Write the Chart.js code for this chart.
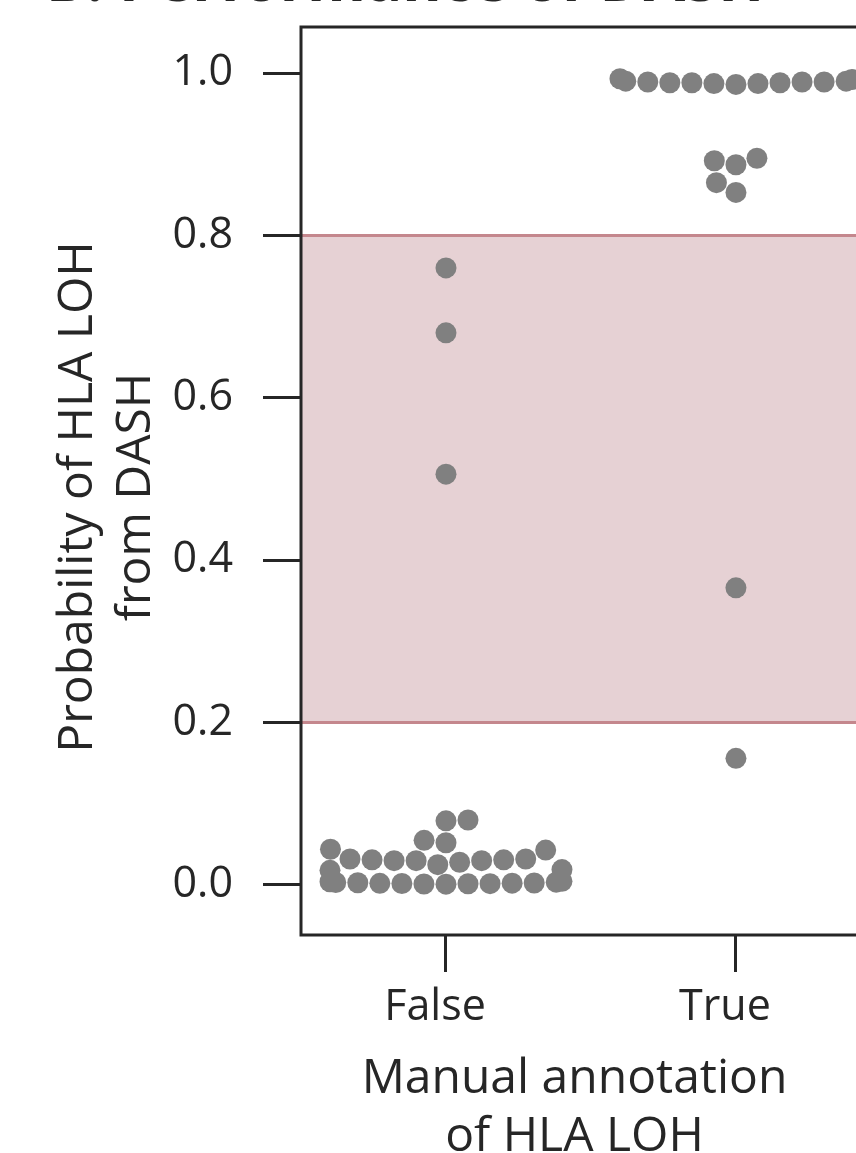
<!DOCTYPE html>
<html>
<head>
<meta charset="utf-8">
<script src="https://cdn.jsdelivr.net/npm/chart.js@4.4.1/dist/chart.umd.min.js"></script>
<style>
  html, body { margin: 0; padding: 0; background: #ffffff; overflow: hidden; }
  #wrap { position: relative; width: 856px; height: 1153px; }
</style>
</head>
<body>
<div id="wrap"><canvas id="c" width="856" height="1153"></canvas></div>
<script>
// ---------------- data ----------------
const categories = ['False', 'True'];

// DASH probability for samples manually annotated as no HLA LOH
const falseValues = [
  0.0010, 0.0015, 0.0020, 0.0012, 0.0025, 0.0018, 0.0030, 0.0022, 0.0028, 0.0016, 0.0035, 0.0040, 0.0045,
  0.018, 0.019,
  0.025, 0.028, 0.030, 0.030, 0.030, 0.031, 0.031, 0.032, 0.032,
  0.043, 0.044, 0.052, 0.055, 0.079, 0.080,
  0.506, 0.680, 0.760
];

// DASH probability for samples manually annotated as HLA LOH
const trueValues = [
  0.156, 0.366,
  0.853, 0.865, 0.887, 0.892, 0.895,
  0.986, 0.987, 0.987, 0.988, 0.988, 0.988, 0.989, 0.989, 0.989, 0.990, 0.990, 0.992, 0.993
];

const yTickValues = [0.0, 0.2, 0.4, 0.6, 0.8, 1.0];
const bandRange = [0.2, 0.8];
const yRange = [-0.0616, 1.0567];
const xRange = [-0.5, 1.414];

const chartTitle = 'B. Performance of DASH';
const xTitleLines = ['Manual annotation', 'of HLA LOH'];
const yTitleLines = ['Probability of HLA LOH', 'from DASH'];

// ---------------- style ----------------
const FAMILY = "'Open Sans', 'DejaVu Sans', sans-serif";
const INK = '#262626';
const DOT = '#808080';
const BAND_FILL = '#e6d1d4';
const BAND_EDGE = '#c4878d';
const DOT_R = 10.5;
const SWARM_WIDTH = 0.8;

// seaborn-style beeswarm (pixel space)
function beeswarm(values, centerPx, yScale, r, halfWidthPx) {
  const pts = values.map((v, i) => ({ i, x: centerPx, y: -yScale.getPixelForValue(v), r }));
  const sorted = pts.slice().sort((a, b) => a.y - b.y);
  const swarm = [sorted[0]];
  for (let k = 1; k < sorted.length; k++) {
    const p = sorted[k];
    const neighbors = [];
    for (let j = swarm.length - 1; j >= 0; j--) {
      const q = swarm[j];
      if (p.y - q.y < p.r + q.r) neighbors.push(q); else break;
    }
    const cands = [p.x];
    let leftFirst = true;
    for (const q of neighbors) {
      const dy = p.y - q.y;
      const dx = Math.sqrt(Math.max((p.r + q.r) ** 2 - dy * dy, 0)) * 1.05;
      if (leftFirst) cands.push(q.x - dx, q.x + dx); else cands.push(q.x + dx, q.x - dx);
      leftFirst = !leftFirst;
    }
    const order = cands.map((c, idx) => ({ c, idx }))
      .sort((a, b) => (Math.abs(a.c - centerPx) - Math.abs(b.c - centerPx)) || (a.idx - b.idx));
    let chosen = order[0].c;
    if (neighbors.length) {
      for (const o of order) {
        let ok = true;
        for (const q of neighbors) {
          const dx = q.x - o.c, dy = q.y - p.y;
          if (dx * dx + dy * dy < (q.r + p.r) ** 2) { ok = false; break; }
        }
        if (ok) { chosen = o.c; break; }
      }
    }
    p.x = chosen;
    swarm.push(p);
  }
  const out = new Array(values.length);
  for (const p of pts) {
    let x = p.x;
    if (x < centerPx - halfWidthPx) x = centerPx - halfWidthPx;
    if (x > centerPx + halfWidthPx) x = centerPx + halfWidthPx;
    out[p.i] = x;
  }
  return out;
}

function zeroPadding(s) {
  s.paddingTop = 0; s.paddingBottom = 0; s.paddingLeft = 0; s.paddingRight = 0;
}

const decorPlugin = {
  id: 'decor',
  beforeDatasetsDraw(chart) {
    const { ctx, chartArea: a, scales: { y } } = chart;
    const yHi = y.getPixelForValue(bandRange[1]);
    const yLo = y.getPixelForValue(bandRange[0]);
    ctx.save();
    ctx.fillStyle = BAND_FILL;
    ctx.fillRect(a.left, yHi, a.right - a.left, yLo - yHi);
    ctx.strokeStyle = BAND_EDGE;
    ctx.lineWidth = 3;
    ctx.beginPath();
    ctx.moveTo(a.left, yHi); ctx.lineTo(a.right, yHi);
    ctx.moveTo(a.left, yLo); ctx.lineTo(a.right, yLo);
    ctx.stroke();
    ctx.restore();
  },
  afterDatasetsDraw(chart) {
    const { ctx, chartArea: a } = chart;
    ctx.save();
    ctx.strokeStyle = INK;
    ctx.lineWidth = 3;
    ctx.lineCap = 'square';
    ctx.beginPath();
    ctx.moveTo(a.right + 5, a.top); ctx.lineTo(a.left, a.top);
    ctx.lineTo(a.left, a.bottom); ctx.lineTo(a.right + 5, a.bottom);
    ctx.stroke();
    ctx.restore();
  },
  afterDraw(chart) {
    const { ctx, chartArea: a } = chart;
    ctx.save();
    ctx.fillStyle = INK;
    // chart title (mostly above the visible frame)
    ctx.font = `bold 60px ${FAMILY}`;
    ctx.textAlign = 'left';
    ctx.textBaseline = 'alphabetic';
    ctx.fillText(chartTitle, 46, 1);
    // x axis title
    ctx.font = `48px ${FAMILY}`;
    ctx.textAlign = 'center';
    const cx = (a.left + a.right) / 2 - 4;
    ctx.fillText(xTitleLines[0], cx, a.bottom + 158);
    ctx.fillText(xTitleLines[1], cx, a.bottom + 216);
    // y axis title
    ctx.translate(92, (a.top + a.bottom) / 2 + 16);
    ctx.rotate(-Math.PI / 2);
    ctx.fillText(yTitleLines[0], 0, 0);
    ctx.fillText(yTitleLines[1], 0, 58);
    ctx.restore();
  }
};

const ctx = document.getElementById('c').getContext('2d');
const chart = new Chart(ctx, {
  type: 'scatter',
  data: {
    datasets: [
      { label: categories[0], data: falseValues.map(v => ({ x: 0, y: v })) },
      { label: categories[1], data: trueValues.map(v => ({ x: 1, y: v })) }
    ]
  },
  options: {
    responsive: false,
    animation: false,
    devicePixelRatio: 1,
    layout: { autoPadding: false, padding: { top: 27, left: 0, right: 0, bottom: 0 } },
    plugins: { legend: { display: false }, tooltip: { enabled: false }, title: { display: false } },
    elements: {
      point: { radius: DOT_R, hoverRadius: DOT_R, backgroundColor: DOT, borderWidth: 0, pointStyle: 'circle' }
    },
    datasets: { scatter: { clip: 0 } },
    scales: {
      x: {
        type: 'linear',
        position: 'bottom',
        min: xRange[0],
        max: xRange[1],
        afterBuildTicks: s => { s.ticks = categories.map((c, i) => ({ value: i })); },
        afterFit: s => { s.height = 218; zeroPadding(s); },
        ticks: {
          callback: v => categories[v],
          font: { family: FAMILY, size: 43 },
          color: INK,
          padding: 10,
          labelOffset: -11,
          maxRotation: 0,
          autoSkip: false
        },
        grid: { display: true, drawOnChartArea: false, drawTicks: true, tickLength: 37, tickWidth: 3, tickColor: INK },
        border: { display: false }
      },
      y: {
        type: 'linear',
        min: yRange[0],
        max: yRange[1],
        afterBuildTicks: s => { s.ticks = yTickValues.map(v => ({ value: v })); },
        afterFit: s => { s.width = 301; zeroPadding(s); },
        ticks: {
          callback: v => Number(v).toFixed(1),
          font: { family: FAMILY, size: 43 },
          color: INK,
          padding: 30
        },
        grid: { display: true, drawOnChartArea: false, drawTicks: true, tickLength: 38, tickWidth: 3, tickColor: INK },
        border: { display: false }
      }
    }
  },
  plugins: [decorPlugin]
});

// place points as a swarm using the chart's own scales
(function applySwarm() {
  const xs = chart.scales.x, ys = chart.scales.y;
  const pxPerCat = Math.abs(xs.getPixelForValue(1) - xs.getPixelForValue(0));
  [falseValues, trueValues].forEach((vals, ci) => {
    const center = xs.getPixelForValue(ci);
    const px = beeswarm(vals, center, ys, DOT_R, pxPerCat * SWARM_WIDTH / 2);
    chart.data.datasets[ci].data = vals.map((v, i) => ({ x: xs.getValueForPixel(px[i]), y: v }));
  });
  chart.update();
})();
</script>
</body>
</html>
